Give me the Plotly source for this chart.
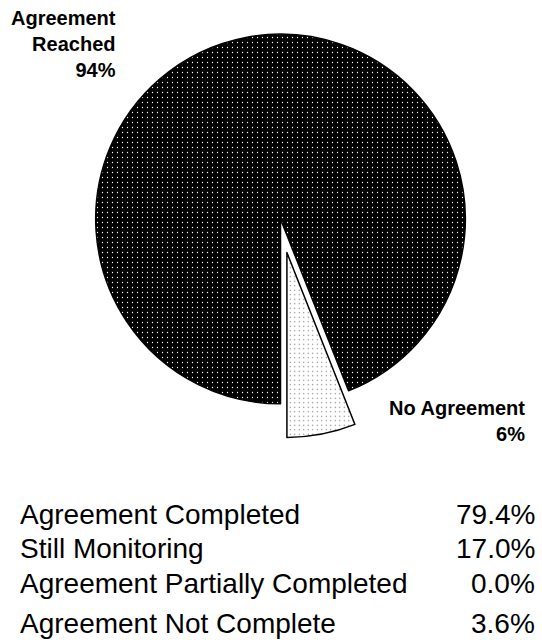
import plotly.graph_objects as go

# Outcome split shown in the pie
pie_labels = ["Agreement Reached", "No Agreement"]
pie_values = [94, 6]

# Breakdown listed under the pie
table_labels = [
    "Agreement Completed",
    "Still Monitoring",
    "Agreement Partially Completed",
    "Agreement Not Complete",
]
table_values = ["79.4%", "17.0%", "0.0%", "3.6%"]

W, H = 542, 640

fig = go.Figure()

fig.add_trace(
    go.Pie(
        labels=pie_labels,
        values=pie_values,
        sort=False,
        direction="counterclockwise",
        rotation=180,
        pull=[0, 0.185],
        textinfo="none",
        hoverinfo="label+percent",
        showlegend=False,
        domain=dict(x=[30.5 / W, 530.5 / W], y=[1 - 438 / H, 1.0]),
        marker=dict(
            colors=["black", "white"],
            line=dict(color="black", width=1.5),
            pattern=dict(
                shape=[".", "."],
                fgcolor=["white", "#6e6e6e"],
                bgcolor=["black", "white"],
                size=[5, 4.5],
                solidity=[0.05, 0.06],
                fillmode="replace",
            ),
        ),
    )
)

font_bold = dict(family="Arial, Liberation Sans, sans-serif", size=20, color="black")
font_reg = dict(family="Arial, Liberation Sans, sans-serif", size=28, color="black")


def py(pixel_y):
    """Convert a pixel row (from the top) to paper y."""
    return 1 - pixel_y / H


annotations = [
    dict(
        text=f"<b>{pie_labels[0].replace(' ', '<br>')}<br>{pie_values[0]}%</b>",
        x=118 / W, y=py(44), xref="paper", yref="paper",
        xanchor="right", yanchor="middle", align="right",
        showarrow=False, font=font_bold,
    ),
    dict(
        text=f"<b>{pie_labels[1]}<br>{pie_values[1]}%</b>",
        x=527 / W, y=py(421), xref="paper", yref="paper",
        xanchor="right", yanchor="middle", align="right",
        showarrow=False, font=font_bold,
    ),
]

row_centers = [514, 548, 583, 623]
for lab, val, yc in zip(table_labels, table_values, row_centers):
    annotations.append(dict(
        text=lab, x=18 / W, y=py(yc), xref="paper", yref="paper",
        xanchor="left", yanchor="middle", showarrow=False, font=font_reg,
    ))
    annotations.append(dict(
        text=val, x=537 / W, y=py(yc), xref="paper", yref="paper",
        xanchor="right", yanchor="middle", showarrow=False, font=font_reg,
    ))

fig.update_layout(
    width=W,
    height=H,
    margin=dict(l=0, r=0, t=0, b=0),
    paper_bgcolor="white",
    plot_bgcolor="white",
    annotations=annotations,
)

fig.write_html("out.html")
